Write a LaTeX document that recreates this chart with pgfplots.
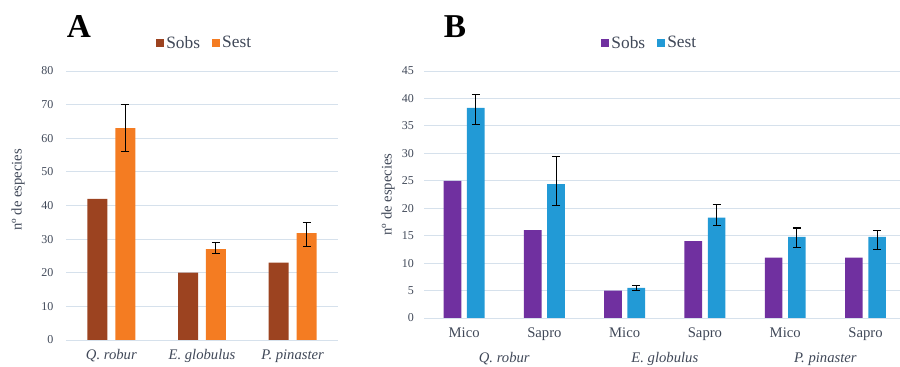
\documentclass[border=0pt]{standalone}
\usepackage{fontspec}
\setmainfont{Liberation Serif}
\usepackage{pgfplots}
\pgfplotsset{compat=1.18}
\definecolor{cSobsA}{HTML}{9C4320}
\definecolor{cSestA}{HTML}{F47C22}
\definecolor{cSobsB}{HTML}{7030A0}
\definecolor{cSestB}{HTML}{229AD6}
\definecolor{cGrid}{HTML}{D6E1EC}
\definecolor{cText}{HTML}{404858}
\pgfplotsset{
  common/.style={
    scale only axis, anchor=south west, clip=false,
    axis line style={draw=none}, major tick length=0pt,
    ymajorgrids, grid style={cGrid, line width=0.6pt},
    ymin=0,
    tick label style={font=\fontsize{9}{10}\selectfont, text=cText},
    /pgf/number format/assume math mode=true,
    legend columns=2,
    legend style={draw=none, fill=none, font=\fontsize{13}{14}\selectfont, text=cText,
      /tikz/every even column/.append style={column sep=7pt}},
    legend image code/.code={\fill[##1,draw=none] (0pt,-2.8pt) rectangle (5.6pt,2.8pt);},
    error bars/error bar style={black, line width=0.8pt},
    error bars/error mark options={black, line width=0.8pt, mark size=3pt, rotate=90},
  }
}
\begin{document}
\begin{tikzpicture}
\useasboundingbox (0pt,0pt) rectangle (675pt,275.25pt);
\node[font=\bfseries\fontsize{25}{25}\selectfont] at (59.25pt,255pt) {A};
\node[font=\bfseries\fontsize{25}{25}\selectfont] at (341.25pt,255pt) {B};
% Panel A
\begin{axis}[common,
  at={(49.5pt,20.25pt)}, width=204pt, height=201.75pt,
  xmin=-0.5, xmax=2.5, ymax=80, ytick={0,10,...,80},
  xtick={0,1,2}, xticklabels={Q. robur, E. globulus, P. pinaster},
  xticklabel style={font=\itshape\fontsize{11}{12}\selectfont, yshift=-3.5pt},
  yticklabel style={xshift=-6pt},
  legend style={at={(rel axis cs:0.511,1.104)}, anchor=center},
]
\addplot[ybar, bar width=0.22, bar shift=0, fill=cSobsA, draw=none]
  coordinates {(-0.154,42) (0.846,20) (1.846,23)};
\addplot[ybar, bar width=0.22, bar shift=0, fill=cSestA, draw=none,
  error bars/.cd, y dir=both, y explicit]
  coordinates {(0.154,63) += (0,7) -= (0,7)
               (1.154,27) += (0,2) -= (0,1.4)
               (2.154,31.8) += (0,3.2) -= (0,4)};
\legend{Sobs, Sest}
\node[rotate=90, font=\fontsize{11}{12}\selectfont, text=cText] at (rel axis cs:-0.176,0.558) {nº de especies};
\end{axis}
% Panel B
\begin{axis}[common,
  at={(318pt,36.75pt)}, width=357pt, height=185.25pt,
  xmin=-0.5, xmax=5.43, ymax=45, ytick={0,5,...,45},
  xtick={0,1,2,3,4,5}, xticklabels={Mico, Sapro, Mico, Sapro, Mico, Sapro},
  xticklabel style={font=\fontsize{11}{12}\selectfont, yshift=-3.5pt},
  yticklabel style={xshift=-4pt},
  legend style={at={(rel axis cs:0.475,1.113)}, anchor=center},
]
\addplot[ybar, bar width=0.22, bar shift=0, fill=cSobsB, draw=none]
  coordinates {(-0.145,25) (0.855,16) (1.855,5) (2.855,14) (3.855,11) (4.855,11)};
\addplot[ybar, bar width=0.22, bar shift=0, fill=cSestB, draw=none,
  error bars/.cd, y dir=both, y explicit]
  coordinates {(0.145,38.3) += (0,2.5) -= (0,3.1)
               (1.145,24.4) += (0,5.1) -= (0,3.9)
               (2.145,5.5) += (0,0.5) -= (0,0.5)
               (3.145,18.3) += (0,2.4) -= (0,1.4)
               (4.145,14.8) += (0,1.6) -= (0,1.9)
               (5.145,14.8) += (0,1.1) -= (0,2.3)};
\legend{Sobs, Sest}
\node[rotate=90, font=\fontsize{11}{12}\selectfont, text=cText] at (rel axis cs:-0.0756,0.50) {nº de especies};
\node[font=\itshape\fontsize{11}{12}\selectfont, text=cText] at (axis cs:0.5,0) [yshift=-30.75pt] {Q. robur};
\node[font=\itshape\fontsize{11}{12}\selectfont, text=cText] at (axis cs:2.5,0) [yshift=-30.75pt] {E. globulus};
\node[font=\itshape\fontsize{11}{12}\selectfont, text=cText] at (axis cs:4.5,0) [yshift=-30.75pt] {P. pinaster};
\end{axis}
\end{tikzpicture}
\end{document}
